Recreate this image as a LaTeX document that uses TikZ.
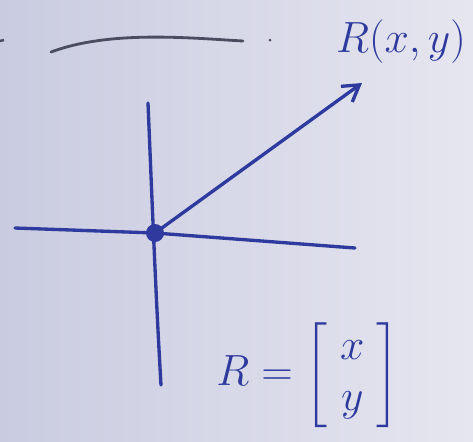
\documentclass[tikz,border=0pt]{standalone}
\usepackage{amsmath}
\usetikzlibrary{arrows.meta}

\definecolor{ink}{HTML}{2E3A9E}
\definecolor{pencil}{HTML}{4A4C60}
\definecolor{paperL}{HTML}{C9CBE0}
\definecolor{paperR}{HTML}{E6E6F0}

\begin{document}
\begin{tikzpicture}[x=0.02cm,y=-0.02cm,
  axis/.style={draw=ink,line width=1.9pt,line cap=round},
  vec/.style={draw=ink,line width=1.9pt,line cap=round,-{Straight Barb[length=9pt,width=11pt,line width=1.9pt]}},
  inktext/.style={text=ink,inner sep=0pt}]
\shade[left color=paperL,right color=paperR] (0,0) rectangle (473,441);
\useasboundingbox (0,0) rectangle (473,441);
% top stroke
\draw[pencil,line width=1.4pt] (0,41) -- (4,40);
\draw[pencil,line width=1.6pt,line cap=round] (51,52) .. controls (110,30) and (190,38) .. (243,41);
\fill[pencil] (270,40) circle (1.5);
% axes
\coordinate (O) at (155,233);
\coordinate (xl) at (15,228);
\coordinate (xr) at (355,248);
\coordinate (yt) at (148,103);
\coordinate (yb) at (161,385);
\coordinate (tip) at (362,83);
\draw[axis] (xl) -- (O) -- (xr);
\draw[axis] (yt) .. controls (152,200) and (156,300) .. (yb);
\draw[vec] (O) -- (tip);
\fill[ink] (O) circle (9);
% labels
\node[inktext,font=\fontsize{35}{40}\selectfont] (rxy) at (401,42) {$R(x,y)$};
\node[inktext,font=\fontsize{30}{36}\selectfont] (rvec) at (308,375)
  {$R=\left[\renewcommand{\arraystretch}{0.8}\;\begin{matrix}x\\y\end{matrix}\;\right]$};
\end{tikzpicture}
\end{document}
